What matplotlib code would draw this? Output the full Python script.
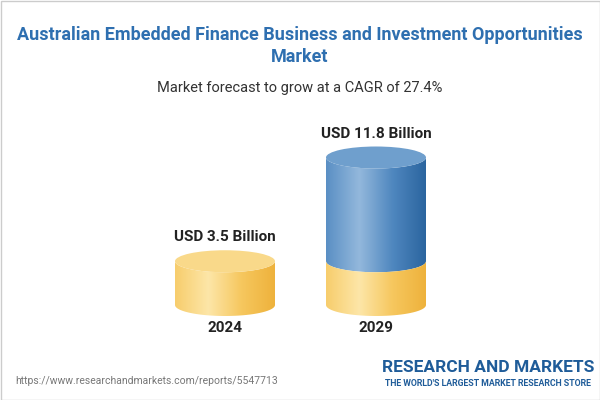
import matplotlib
matplotlib.use("Agg")
import matplotlib.pyplot as plt
import numpy as np
from matplotlib.patches import Ellipse, Rectangle, PathPatch
from matplotlib.path import Path
from matplotlib.colors import LinearSegmentedColormap

plt.rcParams['font.family'] = ['Roboto', 'DejaVu Sans']

years = ["2024", "2029"]
values = [3.5, 11.8]
labels = ["USD 3.5 Billion", "USD 11.8 Billion"]
title = "Australian Embedded Finance Business and Investment Opportunities\nMarket"
subtitle = "Market forecast to grow at a CAGR of 27.4%"

fig = plt.figure(figsize=(6, 4), dpi=100)
ax = fig.add_axes([0, 0, 1, 1])
ax.set_xlim(0, 600); ax.set_ylim(400, 0); ax.axis("off")
fig.patch.set_facecolor("white")

scale = 12.5
base = 305
rx, ry = 50, 11
centers = [225, 376]
ycm = LinearSegmentedColormap.from_list("y", ["#f7cd6c", "#fde6a8", "#f6c75e", "#eeb23c"])
bcm = LinearSegmentedColormap.from_list("b", ["#5a8fc4", "#93b8dc", "#4f87bf", "#2b659f"])
grad = np.linspace(0, 1, 256)[None, :]

def body(cx, y0, y1, cmap, top_col, draw_top=True):
    verts = [(cx - rx, y1), (cx - rx, y0)]
    t = np.linspace(np.pi, 0, 40)
    verts += [(cx + rx * np.cos(a), y0 + ry * np.sin(a)) for a in t]
    verts += [(cx + rx, y1)]
    t2 = np.linspace(0, np.pi, 40)
    verts += [(cx + rx * np.cos(a), y1 + ry * np.sin(a)) for a in t2]
    path = Path(verts + [verts[0]])
    patch = PathPatch(path, fc="none", ec="none")
    ax.add_patch(patch)
    im = ax.imshow(grad, cmap=cmap, extent=(cx - rx, cx + rx, y0 + ry + 1, y1 - ry - 1), aspect="auto", zorder=2)
    im.set_clip_path(patch)
    if draw_top:
        ax.add_patch(Ellipse((cx, y1), 2 * rx, 2 * ry, fc=top_col, ec="none", zorder=3))

for i, (cx, v) in enumerate(zip(centers, values)):
    top = base - v * scale
    if i == 0:
        body(cx, base, top, ycm, "#f9d98a")
    else:
        ybase = base - values[0] * scale
        body(cx, ybase, top, bcm, "#6f9fcd")
        body(cx, base, ybase, ycm, "#f9d98a", draw_top=False)
    ax.text(cx, top - 24, labels[i], ha="center", va="center", fontsize=11, fontweight="bold", color="#222222")
    ax.text(cx, 328, years[i], ha="center", va="center", fontsize=11, fontweight="bold", color="#222222")

ax.text(300, 46, title, ha="center", va="center", fontsize=13, fontweight="bold", color="#2e6fb0", linespacing=1.35)
ax.text(300, 88, subtitle, ha="center", va="center", fontsize=10.5, color="#333333")
ax.text(15, 381, "https://www.researchandmarkets.com/reports/5547713", ha="left", va="center", fontsize=7.5, color="#777777")
ax.text(488, 368, "RESEARCH AND MARKETS", ha="center", va="center", fontsize=12.5, fontweight="bold", color="#1f5c99")
ax.text(488, 384, "THE WORLD'S LARGEST MARKET RESEARCH STORE", ha="center", va="center", fontsize=6.3, fontweight="bold", color="#1f5c99")
ax.add_patch(Rectangle((0.5, 0.5), 599, 399, fc="none", ec="#cccccc", lw=1))
fig.savefig("out.png", dpi=100)
